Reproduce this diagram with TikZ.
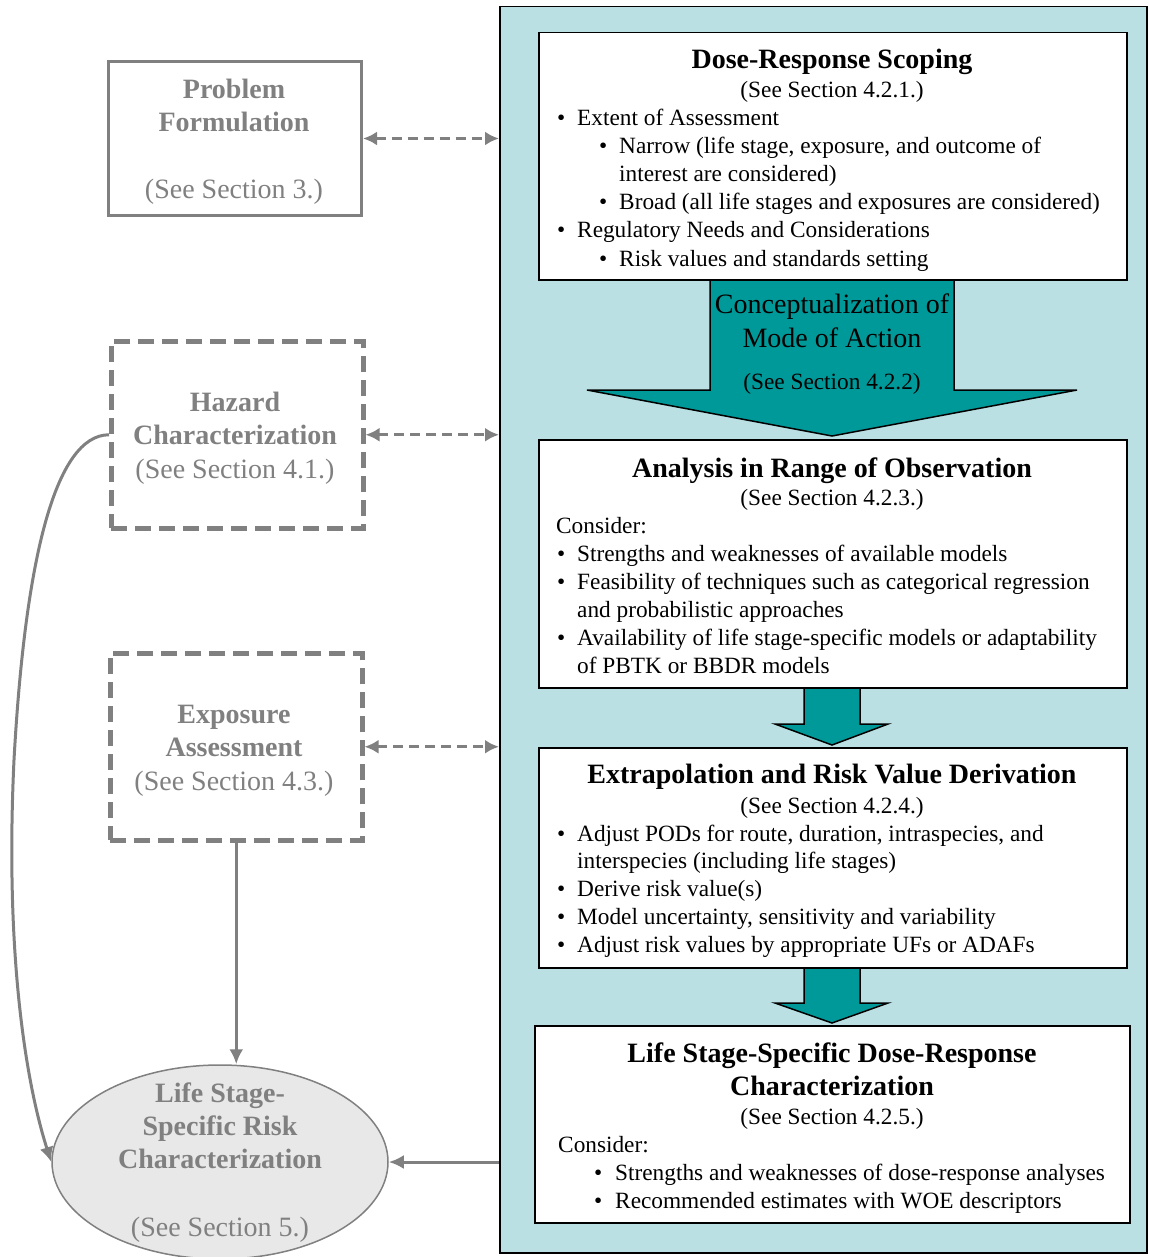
\documentclass[tikz,border=0pt]{standalone}
\usepackage{fontspec}
\setmainfont{Liberation Serif}
\usetikzlibrary{arrows.meta,shapes.geometric}

\definecolor{panelfill}{HTML}{BAE0E3}
\definecolor{arrowteal}{HTML}{009999}
\definecolor{sidegray}{HTML}{808080}
\definecolor{ovalfill}{HTML}{E8E8E8}

\tikzset{
  panelst/.style={draw=black, line width=1.5pt, fill=panelfill, inner sep=0pt, anchor=north west},
  boxst/.style={draw=black, line width=1.5pt, fill=white, inner sep=0pt, anchor=north west},
  solidside/.style={draw=sidegray, line width=3pt, inner sep=0pt, anchor=north west},
  dashside/.style={draw=sidegray, line width=4.5pt, dash pattern=on 16pt off 8pt, inner sep=0pt, anchor=north west},
  oval/.style={ellipse, draw=sidegray, line width=1.5pt, fill=ovalfill, inner sep=0pt},
  blockarrow/.style={fill=arrowteal, draw=black, line width=1.5pt, line join=miter},
  link/.style={draw=sidegray, line width=3pt, -{Latex[length=15pt,width=14pt]}},
  duallink/.style={draw=sidegray, line width=3pt, dash pattern=on 10pt off 6pt,
    {Latex[length=14pt,width=14pt]}-{Latex[length=14pt,width=14pt]}},
  ttl/.style={font=\fontsize{28}{34}\selectfont\bfseries, inner sep=0pt, anchor=base},
  sect/.style={font=\fontsize{23.3}{28}\selectfont, inner sep=0pt, anchor=base},
  item/.style={font=\fontsize{23.3}{28}\selectfont, inner sep=0pt, anchor=base west},
  flowtxt/.style={font=\fontsize{28}{34}\selectfont, inner sep=0pt, anchor=base},
  sidettl/.style={ttl, text=sidegray},
  sidesec/.style={flowtxt, text=sidegray},
}

% one text line, named automatically
\newcounter{lbl}
\newcommand\txtat[4]{\stepcounter{lbl}\node[#1] (lbl\thelbl) at (#2,#3) {#4};}
% first-level bullet line
\newcommand\itemA[2]{\txtat{item}{557}{#1}{\textbullet}\txtat{item}{577}{#1}{#2}}
% second-level bullet line
\newcommand\itemB[2]{\txtat{item}{599}{#1}{\textbullet}\txtat{item}{619}{#1}{#2}}

\begin{document}
\begin{tikzpicture}[x=1pt, y=-1pt]
\useasboundingbox (0,0) rectangle (1148,1257);

% right-hand panel
\node[panelst, minimum width=647pt, minimum height=1246pt] (panel) at (499,6) {};

% block arrows between the stages
\filldraw[blockarrow] (710,280) -- (710,390) -- (587,390) -- (832,436) -- (1077,390) -- (954,390) -- (954,280);
\filldraw[blockarrow] (804,687) -- (804,724) -- (775,724) -- (832,745) -- (888,724) -- (860,724) -- (860,687);
\filldraw[blockarrow] (804,967) -- (804,1003) -- (775,1003) -- (832,1023) -- (888,1003) -- (860,1003) -- (860,967);

% stage boxes
\node[boxst, minimum width=588pt, minimum height=247pt] (b1) at (538,32) {};
\node[boxst, minimum width=588pt, minimum height=248pt] (b2) at (538,439) {};
\node[boxst, minimum width=588pt, minimum height=220pt] (b3) at (538,747) {};
\node[boxst, minimum width=595pt, minimum height=197pt] (b4) at (534,1025) {};

% Dose-Response Scoping
\txtat{ttl}{832}{69}{Dose-Response Scoping}
\txtat{sect}{832}{98}{(See Section 4.2.1.)}
\itemA{126}{Extent of Assessment}
\itemB{154}{Narrow (life stage, exposure, and outcome of}
\txtat{item}{619}{182}{interest are considered)}
\itemB{210}{Broad (all life stages and exposures are considered)}
\itemA{238}{Regulatory Needs and Considerations}
\itemB{266}{Risk values and standards setting}

% Conceptualization of Mode of Action
\txtat{flowtxt}{832}{313}{Conceptualization of}
\txtat{flowtxt}{832}{347}{Mode of Action}
\txtat{sect}{832}{389}{(See Section 4.2.2)}

% Analysis in Range of Observation
\txtat{ttl}{832}{477}{Analysis in Range of Observation}
\txtat{sect}{832}{505}{(See Section 4.2.3.)}
\txtat{item}{556}{533}{Consider:}
\itemA{561}{Strengths and weaknesses of available models}
\itemA{589}{Feasibility of techniques such as categorical regression}
\txtat{item}{577}{617}{and probabilistic approaches}
\itemA{645}{Availability of life stage-specific models or adaptability}
\txtat{item}{577}{673}{of PBTK or BBDR models}

% Extrapolation and Risk Value Derivation
\txtat{ttl}{832}{783}{Extrapolation and Risk Value Derivation}
\txtat{sect}{832}{813}{(See Section 4.2.4.)}
\itemA{841}{Adjust PODs for route, duration, intraspecies, and}
\txtat{item}{577}{868}{interspecies (including life stages)}
\itemA{896}{Derive risk value(s)}
\itemA{924}{Model uncertainty, sensitivity and variability}
\itemA{952}{Adjust risk values by appropriate UFs or ADAFs}

% Life Stage-Specific Dose-Response Characterization
\txtat{ttl}{832}{1062}{Life Stage-Specific Dose-Response}
\txtat{ttl}{832}{1095}{Characterization}
\txtat{sect}{832}{1124}{(See Section 4.2.5.)}
\txtat{item}{558}{1152}{Consider:}
\txtat{item}{594}{1180}{\textbullet}\txtat{item}{615}{1180}{Strengths and weaknesses of dose-response analyses}
\txtat{item}{594}{1208}{\textbullet}\txtat{item}{615}{1208}{Recommended estimates with WOE descriptors}

% left-hand boxes
\node[solidside, minimum width=253pt, minimum height=154pt] (pf) at (107,60) {};
\node[dashside, minimum width=252pt, minimum height=187pt] (hc) at (109,339) {};
\node[dashside, minimum width=252pt, minimum height=187pt] (ea) at (108,651) {};
\node[oval, minimum width=336pt, minimum height=194pt] (le) at (220,1162) {};

\txtat{sidettl}{234}{99}{Problem}
\txtat{sidettl}{234}{132}{Formulation}
\txtat{sidesec}{234}{199}{(See Section 3.)}

\txtat{sidettl}{235}{411}{Hazard}
\txtat{sidettl}{235}{444}{Characterization}
\txtat{sidesec}{235}{478}{(See Section 4.1.)}

\txtat{sidettl}{234}{723}{Exposure}
\txtat{sidettl}{234}{756}{Assessment}
\txtat{sidesec}{234}{790}{(See Section 4.3.)}

\txtat{sidettl}{220}{1102}{Life Stage-}
\txtat{sidettl}{220}{1135}{Specific Risk}
\txtat{sidettl}{220}{1168}{Characterization}
\txtat{sidesec}{220}{1236}{(See Section 5.)}

% connectors
\draw[duallink] (pf.east) -- (pf.east -| panel.west);
\draw[duallink] (hc.east) -- (hc.east -| panel.west);
\draw[duallink] (ea.east) -- (ea.east -| panel.west);
\draw[link] (ea.south) -- (ea.south |- le.north);
\draw[link] (le.east -| panel.west) -- (le.east);
\draw[link] (hc.west) .. controls (55,435) and (25,560) .. (14,760)
  .. controls (5,950) and (25,1080) .. (le.west);
\end{tikzpicture}
\end{document}
